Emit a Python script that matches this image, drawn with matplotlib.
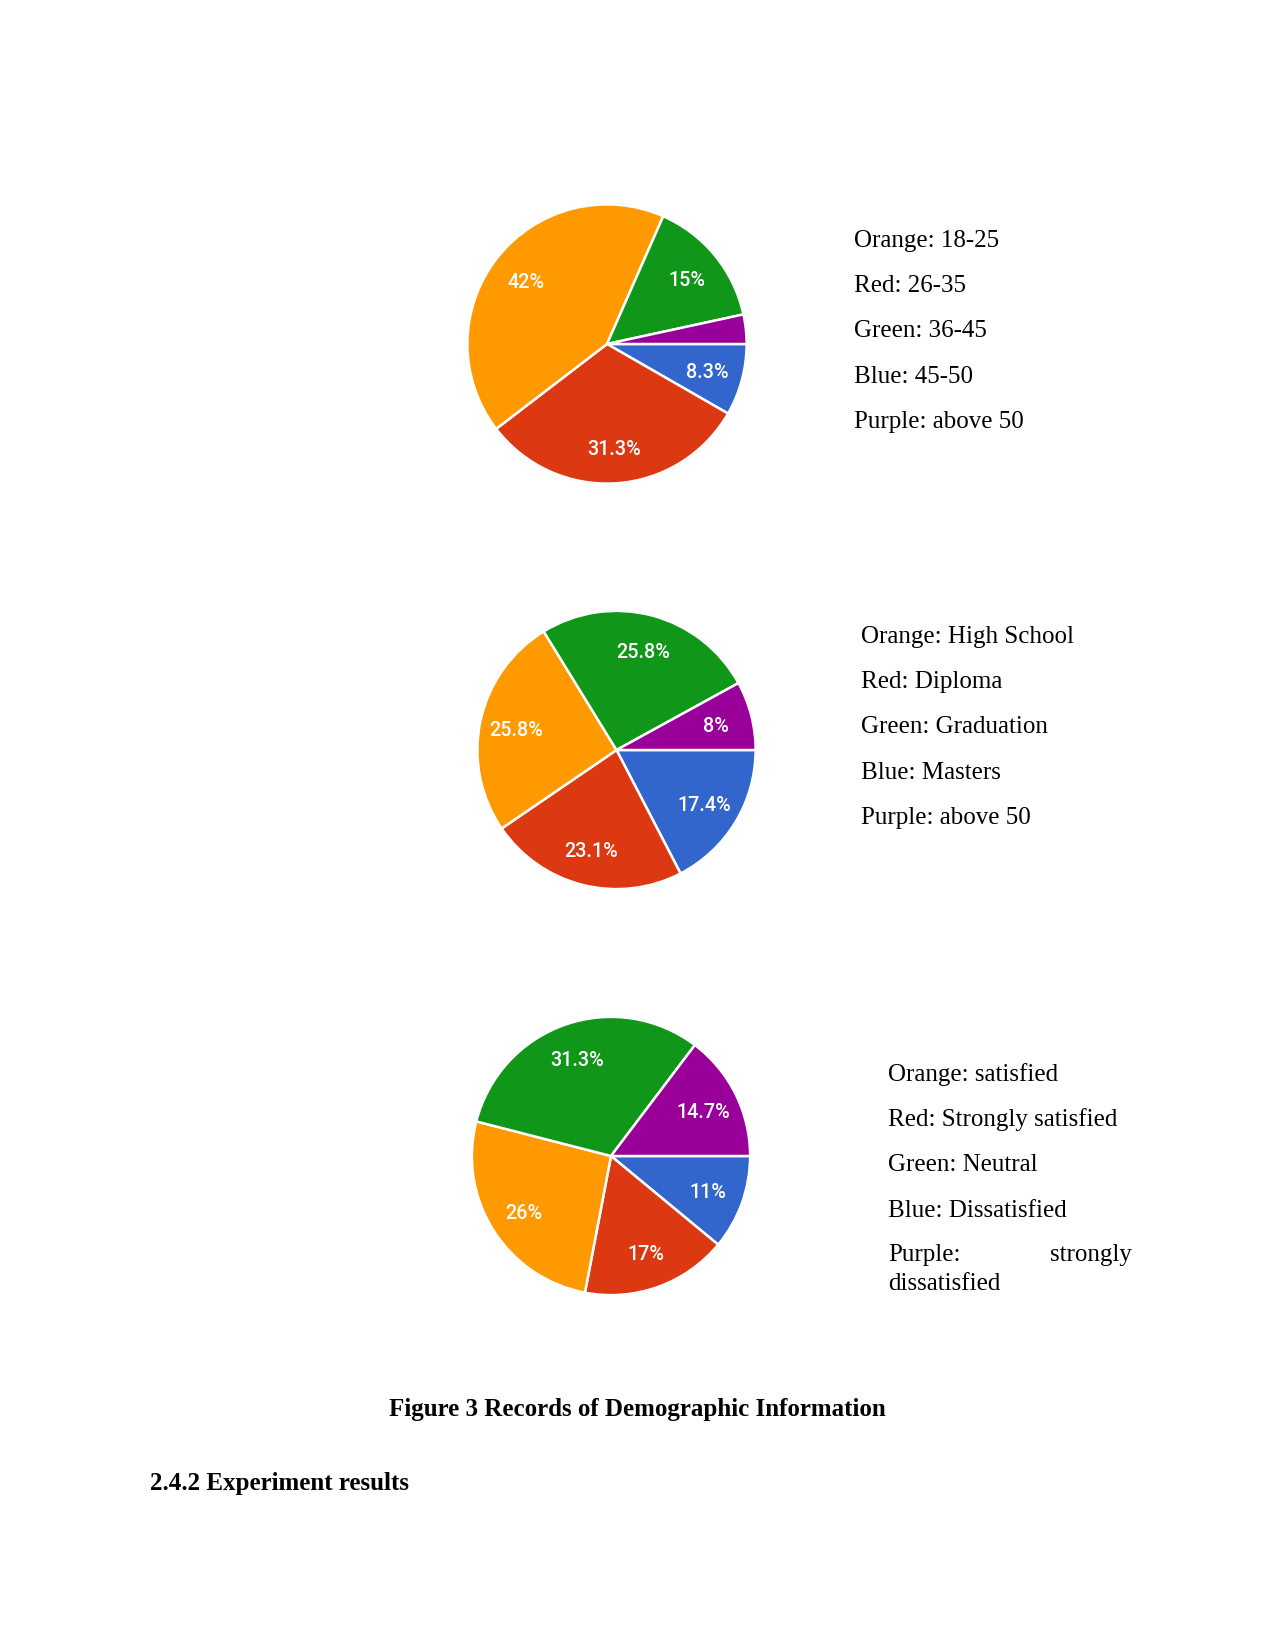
import matplotlib.pyplot as plt

W, H = 1275, 1651
DPI = 150

# slices in drawing order (clockwise from 3 o'clock): blue, red, orange, green, purple
colors = ["#3366cc", "#dc3912", "#ff9900", "#109618", "#990099"]

age_vals = [8.3, 31.3, 42, 15, 3.4]
age_lbls = ["8.3%", "31.3%", "42%", "15%", ""]
age_legend = ["Orange: 18-25", "Red: 26-35", "Green: 36-45", "Blue: 45-50", "Purple: above 50"]

edu_vals = [17.4, 23.1, 25.8, 25.8, 8]
edu_lbls = ["17.4%", "23.1%", "25.8%", "25.8%", "8%"]
edu_legend = ["Orange: High School", "Red: Diploma", "Green: Graduation", "Blue: Masters", "Purple: above 50"]

sat_vals = [11, 17, 26, 31.3, 14.7]
sat_lbls = ["11%", "17%", "26%", "31.3%", "14.7%"]
sat_legend = ["Orange: satisfied", "Red: Strongly satisfied", "Green: Neutral", "Blue: Dissatisfied"]

fig = plt.figure(figsize=(W / DPI, H / DPI), dpi=DPI)
fig.patch.set_facecolor("white")


def px(x, y):
    return x / W, 1 - y / H


def draw_pie(cx, cy, r, vals, lbls):
    ax = fig.add_axes([(cx - r) / W, 1 - (cy + r) / H, 2 * r / W, 2 * r / H])
    it = iter(lbls)
    wedges, texts, autotexts = ax.pie(
        vals, colors=colors, startangle=0, counterclock=False, radius=1,
        autopct=lambda p: next(it), pctdistance=0.74,
        wedgeprops=dict(edgecolor="white", linewidth=1.2),
        textprops=dict(color="white", fontsize=9.5, family="Roboto", weight="medium"))
    for t in autotexts:
        t.set_va("center_baseline")
    ax.set_xlim(-1.01, 1.01)
    ax.set_ylim(-1.01, 1.01)
    ax.set_aspect("equal")
    ax.axis("off")


def legend(x, y0, lines, step=45.4):
    for i, t in enumerate(lines):
        fig.text(*px(x, y0 + i * step), t, fontsize=12, family="Liberation Serif",
                 va="center_baseline", ha="left")


draw_pie(607, 344, 141, age_vals, age_lbls)
legend(854, 238, age_legend)

draw_pie(616.5, 750, 140.5, edu_vals, edu_lbls)
legend(861, 634, edu_legend)

draw_pie(611, 1156, 140.5, sat_vals, sat_lbls)
legend(888, 1072, sat_legend)
fig.text(*px(888, 1253), "Purple:", fontsize=12, family="Liberation Serif", va="center_baseline", ha="left")
fig.text(*px(1132, 1253), "strongly", fontsize=12, family="Liberation Serif", va="center_baseline", ha="right")
fig.text(*px(888, 1282), "dissatisfied", fontsize=12, family="Liberation Serif", va="center_baseline", ha="left")

fig.text(*px(637.5, 1407), "Figure 3 Records of Demographic Information", fontsize=12,
         family="Liberation Serif", weight="bold", va="center_baseline", ha="center")
fig.text(*px(150.5, 1481), "2.4.2 Experiment results", fontsize=12,
         family="Liberation Serif", weight="bold", va="center_baseline", ha="left")

fig.savefig("out.png", dpi=DPI)
